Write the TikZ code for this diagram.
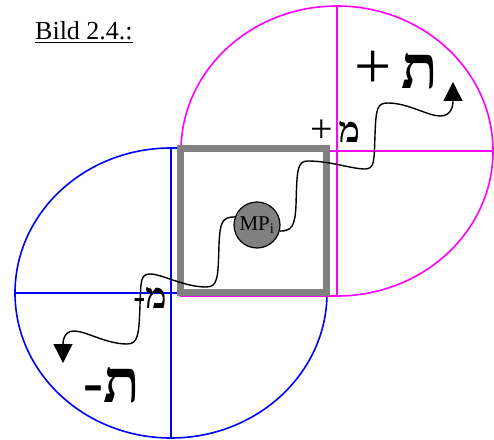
\documentclass[tikz,border=0pt]{standalone}
\usepackage{fontspec}
\setmainfont{Liberation Serif}
\newfontfamily\hebfont[Script=Hebrew]{Liberation Serif}
\usetikzlibrary{arrows.meta}
\definecolor{fieldblue}{RGB}{0,0,255}
\definecolor{fieldmagenta}{RGB}{255,0,255}
\definecolor{pointgray}{RGB}{128,128,128}
\tikzset{
  quadline/.style={line width=1.6pt},
  wave/.style={line width=1.4pt, -{Triangle[length=19pt,width=19pt]}},
  sign/.style={inner sep=0pt}
}

\begin{document}
\begin{tikzpicture}[x=1pt, y=1pt]
  \useasboundingbox (0,0) rectangle (494,439);

  % lower left field
  \draw[fieldblue, quadline] (171,291) arc[start angle=90, end angle=360, x radius=156, y radius=145]
    -- (327,291) -- cycle;
  \draw[fieldblue, quadline] (15,146) -- (327,146) (171,1) -- (171,291);

  % upper right field
  \draw[fieldmagenta, quadline] (181,288) arc[start angle=180, end angle=-90, x radius=156, y radius=145]
    -- (181,143) -- cycle;
  \draw[fieldmagenta, quadline] (181,288) -- (493,288) (337,433) -- (337,143);

  \node[draw=pointgray, line width=7pt, minimum width=146pt, minimum height=144pt, inner sep=0pt] (box) at (253.5,218.5) {};
  \node[circle, draw, fill=pointgray, line width=1.2pt, minimum size=46pt, inner sep=0pt,
    font=\fontsize{21}{21}\selectfont] (mp) at (257,214) {MP\textsubscript{i}};

  \coordinate (tipplus) at (453,357);
  \coordinate (tipminus) at (63,76);
  \draw[wave] (mp.-15) .. controls (292,208) and (295,213) .. (296,234)
    .. controls (297,269) and (297,278) .. (308,278) .. controls (330,278) and (352,270) .. (365,270)
    .. controls (375,270) and (374,279) .. (375,304) .. controls (376,331) and (377,336) .. (388,336)
    .. controls (408,336) and (428,323) .. (440,323) .. controls (452,323) and (453,334) .. (tipplus);
  \draw[wave] (mp.160) .. controls (222,222) and (220,217) .. (219,194)
    .. controls (218,161) and (218,152) .. (206,152) .. controls (184,152) and (162,165) .. (150,165)
    .. controls (140,165) and (141,157) .. (140,134) .. controls (139,104) and (138,95) .. (127,95)
    .. controls (106,95) and (86,108) .. (74,108) .. controls (63,108) and (63,96) .. (tipminus);

  \node[sign, font=\fontsize{36}{36}\selectfont] (plusmem) at (335,308) {{\fontsize{40}{40}\selectfont+}\,{\hebfont\bfseries מ}};
  \node[sign, font=\fontsize{60}{60}\selectfont] (plustav) at (396,369) {{\fontsize{66}{66}\selectfont+}\,{\hebfont\bfseries ת}};
  \node[sign, font=\fontsize{36}{36}\selectfont] (minusmem) at (150,141) {\bfseries-{\hebfont מ}};
  \node[sign, font=\fontsize{60}{60}\selectfont] (minustav) at (112,54) {\bfseries-{\hebfont ת}};

  \node[font=\fontsize{26}{26}\selectfont, anchor=base west, inner sep=0pt] (title) at (35,399) {\underline{Bild 2.4.:}};
\end{tikzpicture}
\end{document}
